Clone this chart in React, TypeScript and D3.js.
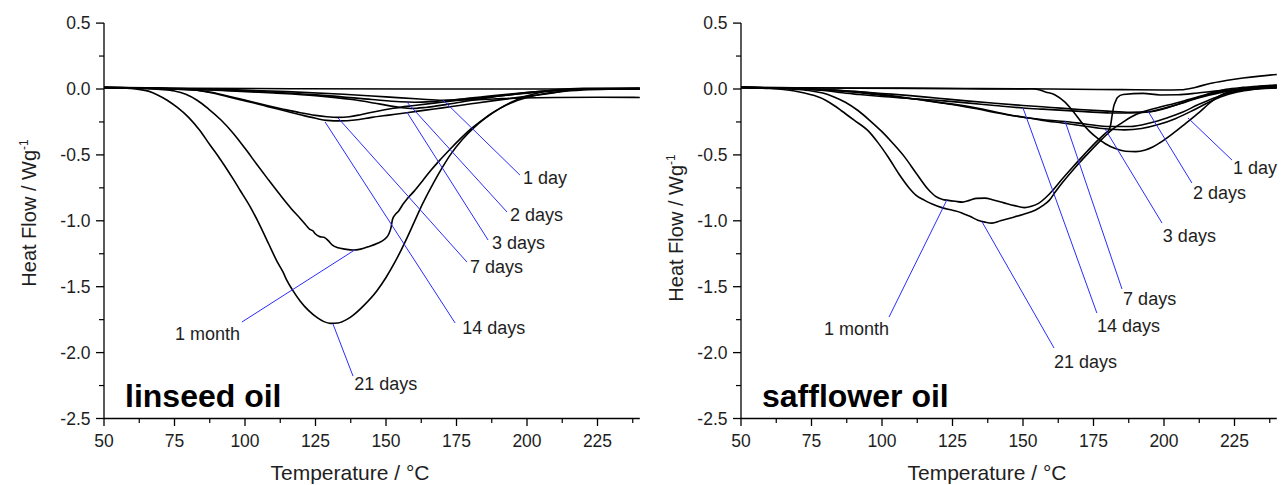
import { line, curveMonotoneX, scaleLinear } from "d3";

type Pt = [number, number];
type Leader = [number, number, number, number];

const W = 1282;
const H = 485;
const FONT = "'Liberation Sans', Arial, sans-serif";

// axes (same for both panels)
const X_DOMAIN: [number, number] = [50, 240];
const Y_DOMAIN: [number, number] = [-2.5, 0.5];
const X_TICKS = [50, 75, 100, 125, 150, 175, 200, 225];
const X_TICK_LABELS = ["50", "75", "100", "125", "150", "175", "200", "225"];
const X_MINOR = [62.5, 87.5, 112.5, 137.5, 162.5, 187.5, 212.5, 237.5];
const Y_TICKS = [0.5, 0, -0.5, -1, -1.5, -2, -2.5];
const Y_TICK_LABELS = ["0.5", "0.0", "-0.5", "-1.0", "-1.5", "-2.0", "-2.5"];
const Y_MINOR = [0.25, -0.25, -0.75, -1.25, -1.75, -2.25];

const AGES = ["1 day", "2 days", "3 days", "7 days", "14 days", "21 days", "1 month"];

// ---- linseed oil: temperature (°C), heat flow (W/g) ----
const linBase: Pt[] = [[50, 0.012], [80, 0.006], [120, 0.002], [160, 0], [200, 0], [240, 0]];
const lin1d: Pt[] = [[50, 0.01], [75, 0.004], [95, -0.005], [115, -0.02], [135, -0.04], [150, -0.06], [162, -0.076], [170, -0.085], [178, -0.084], [188, -0.076], [198, -0.068], [210, -0.064], [225, -0.063], [240, -0.064]];
const lin2d: Pt[] = [[50, 0.01], [70, 0.004], [90, -0.008], [110, -0.025], [130, -0.052], [145, -0.08], [155, -0.097], [160, -0.1], [166, -0.096], [175, -0.08], [185, -0.058], [195, -0.036], [205, -0.018], [215, -0.006], [225, 0], [240, 0.002]];
const lin3d: Pt[] = [[50, 0.012], [70, 0.004], [90, -0.01], [110, -0.03], [125, -0.05], [138, -0.08], [148, -0.115], [155, -0.14], [159, -0.148], [164, -0.14], [172, -0.115], [182, -0.08], [193, -0.045], [205, -0.018], [215, -0.005], [225, 0.002], [240, 0.004]];
const lin7d: Pt[] = [[50, 0.012], [70, 0.003], [82, -0.008], [88, -0.025], [95.7, -0.062], [102, -0.095], [107.8, -0.125], [114, -0.155], [119.6, -0.18], [125, -0.2], [129, -0.21], [133, -0.215], [137, -0.21], [141, -0.195], [146, -0.172], [152.6, -0.146], [160, -0.125], [169, -0.102], [178, -0.08], [187, -0.06], [196, -0.04], [204.6, -0.022], [212, -0.01], [220, -0.002], [240, 0.004]];
const lin14d: Pt[] = [[50, 0.012], [70, 0.003], [82, -0.008], [88, -0.028], [95.7, -0.068], [102, -0.1], [107.8, -0.132], [114, -0.165], [119.6, -0.195], [125, -0.222], [129, -0.238], [134, -0.242], [139, -0.235], [145, -0.215], [151, -0.198], [157.4, -0.18], [164, -0.16], [170, -0.143], [176, -0.125], [181, -0.11], [187, -0.092], [193, -0.075], [199, -0.058], [204.6, -0.044], [210, -0.026], [215, -0.01], [220, 0], [240, 0.004]];
const lin21d: Pt[] = [[50, 0.01], [58, 0.006], [63, -0.005], [66, -0.018], [69, -0.045], [72.4, -0.085], [76, -0.14], [80, -0.215], [84, -0.315], [87.6, -0.425], [90.5, -0.51], [93, -0.59], [96, -0.69], [98.3, -0.77], [102, -0.9], [105.4, -1.04], [108.5, -1.18], [111.4, -1.31], [113.5, -1.39], [114.8, -1.45], [117, -1.53], [119.6, -1.61], [122.5, -1.68], [125.6, -1.735], [128, -1.765], [130.2, -1.778], [133, -1.775], [136, -1.75], [138.4, -1.715], [142, -1.645], [146.8, -1.53], [150, -1.43], [153, -1.32], [157, -1.15], [160, -1.01], [163, -0.87], [166.9, -0.71], [170, -0.595], [172.8, -0.5], [177, -0.385], [181.1, -0.295], [185, -0.225], [190.6, -0.145], [195, -0.095], [200.1, -0.052], [205, -0.024], [210.7, -0.005], [220, 0.006], [240, 0.008]];
const lin1m: Pt[] = [[50, 0.01], [62, 0.005], [70, -0.003], [75, -0.015], [79, -0.04], [83, -0.085], [87, -0.15], [91.5, -0.235], [95.8, -0.335], [100, -0.45], [104.3, -0.575], [108, -0.68], [112.5, -0.805], [116.5, -0.91], [119.5, -0.98], [121.5, -1.03], [123, -1.065], [124, -1.075], [125, -1.1], [126.5, -1.12], [128, -1.125], [129.5, -1.15], [131, -1.185], [133, -1.205], [135.5, -1.215], [138.3, -1.222], [141, -1.215], [144, -1.195], [147, -1.17], [149.5, -1.14], [151, -1.1], [151.8, -1.05], [152.3, -0.99], [153.2, -0.955], [154.5, -0.925], [156, -0.875], [157.6, -0.83], [160, -0.775], [163.2, -0.69], [166, -0.615], [169.3, -0.535], [172.8, -0.455], [176.5, -0.375], [180, -0.305], [183.5, -0.245], [187, -0.19], [190.5, -0.145], [195, -0.1], [200, -0.065], [205, -0.04], [212, -0.02], [220, -0.008], [230, -0.002], [240, 0]];

// leader lines [T1, v1, T2, v2] and label anchors [T, v], in AGES order
const linLeaders: Leader[] = [[170.2, -0.083, 197.5, -0.653], [157.4, -0.099, 192.9, -0.933], [157.4, -0.175, 186.2, -1.146], [133.0, -0.22, 178.7, -1.313], [128.4, -0.25, 174.5, -1.775], [131.2, -1.783, 138.3, -2.178], [139.0, -1.22, 98.9, -1.768]];
const linLabelAt: Pt[] = [[198.6, -0.675], [194.0, -0.956], [187.6, -1.168], [179.8, -1.35], [177.0, -1.813], [138.7, -2.231], [98.2, -1.859]];

// ---- safflower oil ----
const safBase: Pt[] = [[50, 0.012], [90, 0.008], [130, 0.004], [160, 0], [185, -0.005], [200, -0.008], [206, -0.006], [211, 0.012], [216.3, 0.042], [222, 0.064], [228, 0.083], [234, 0.098], [240, 0.11]];
const saf1d: Pt[] = [[50, 0.012], [90, 0.006], [130, 0.002], [148, 0], [153, 0.002], [156, -0.008], [158, -0.022], [161.4, -0.045], [164.9, -0.1], [168.5, -0.19], [171, -0.26], [173.5, -0.32], [176.5, -0.375], [179.2, -0.415], [182.5, -0.45], [186.3, -0.472], [190, -0.475], [193.4, -0.462], [196, -0.44], [198.4, -0.41], [203, -0.34], [207.7, -0.26], [212.6, -0.175], [216, -0.11], [219.5, -0.055], [223.3, -0.02], [230, 0], [240, 0.01]];
const saf2d: Pt[] = [[50, 0.012], [70, 0.004], [80, -0.004], [90, -0.018], [100, -0.034], [110, -0.05], [120, -0.07], [130, -0.09], [140, -0.108], [150, -0.125], [160, -0.14], [170, -0.155], [180, -0.168], [188, -0.176], [195, -0.172], [200, -0.15], [205, -0.115], [210, -0.078], [215, -0.045], [220, -0.02], [227, -0.002], [234, 0.012], [240, 0.02]];
const saf3d: Pt[] = [[50, 0.012], [68, 0.004], [76, -0.004], [85, -0.015], [95, -0.035], [105, -0.06], [115, -0.085], [125, -0.115], [135, -0.15], [145, -0.195], [152, -0.22], [157, -0.238], [164, -0.258], [172, -0.282], [179.1, -0.302], [186, -0.31], [192, -0.3], [198, -0.27], [204, -0.225], [210, -0.165], [215, -0.11], [220, -0.06], [226, -0.022], [232, -0.002], [240, 0.012]];
const saf7d: Pt[] = [[50, 0.012], [68, 0.004], [76, -0.004], [85, -0.012], [92, -0.022], [97, -0.032], [105, -0.055], [113, -0.08], [121, -0.105], [127, -0.125], [133, -0.148], [140, -0.178], [147, -0.205], [152, -0.22], [158, -0.235], [164.9, -0.247], [172, -0.265], [181, -0.285], [188, -0.285], [195, -0.258], [201, -0.22], [206.7, -0.175], [212, -0.12], [218.8, -0.06], [224, -0.025], [230, -0.004], [240, 0.015]];
const saf14d: Pt[] = [[50, 0.012], [68, 0.004], [76, -0.006], [81, -0.015], [85, -0.027], [92, -0.042], [100, -0.057], [110, -0.072], [121, -0.088], [130, -0.105], [140, -0.125], [150, -0.144], [157, -0.153], [163, -0.16], [172, -0.172], [181, -0.182], [188, -0.182], [195, -0.172], [201, -0.14], [206.7, -0.106], [211, -0.075], [216.3, -0.046], [222, -0.018], [228, 0.005], [234, 0.018], [240, 0.028]];
const saf21d: Pt[] = [[50, 0.012], [60, 0.004], [65, -0.004], [69, -0.015], [72.5, -0.03], [76, -0.05], [80, -0.085], [83, -0.125], [85.6, -0.165], [90, -0.235], [95.2, -0.32], [98.5, -0.405], [102.3, -0.52], [106, -0.645], [109.4, -0.745], [112, -0.805], [115.1, -0.845], [118, -0.875], [121.2, -0.9], [125, -0.92], [128.3, -0.94], [131.5, -0.97], [134, -0.995], [136.5, -1.01], [139, -1.018], [142, -1.0], [145, -0.982], [150, -0.952], [154.3, -0.92], [157, -0.885], [159.3, -0.845], [161.5, -0.78], [164, -0.71], [168.5, -0.595], [173, -0.49], [178, -0.38], [181.5, -0.31], [185.2, -0.255], [188.5, -0.21], [192.3, -0.175], [198, -0.14], [204, -0.108], [209, -0.078], [213.7, -0.05], [218, -0.022], [222, -0.003], [228, 0.012], [234, 0.022], [240, 0.03]];
const saf1m: Pt[] = [[50, 0.012], [62, 0.005], [70, -0.004], [75, -0.015], [79, -0.03], [83, -0.06], [87, -0.1], [91.6, -0.165], [96, -0.245], [99.8, -0.32], [104, -0.415], [108, -0.515], [112, -0.635], [116.5, -0.765], [119, -0.815], [121.5, -0.838], [123.5, -0.845], [126, -0.852], [128.5, -0.858], [131, -0.845], [133.5, -0.83], [136.5, -0.828], [139.5, -0.842], [143, -0.862], [147, -0.885], [150.5, -0.9], [153, -0.89], [155.5, -0.868], [158, -0.825], [160.5, -0.77], [163, -0.705], [167.5, -0.595], [172, -0.49], [176.5, -0.39], [179.5, -0.33], [180.5, -0.31], [181.1, -0.27], [181.6, -0.2], [182.2, -0.13], [182.8, -0.095], [183.5, -0.065], [185.5, -0.042], [192.6, -0.033], [198.6, -0.045], [205, -0.044], [212, -0.03], [220, -0.012], [230, 0], [240, 0.008]];

const safLeaders: Leader[] = [[208.5, -0.22, 224.1, -0.539], [194.3, -0.167, 209.9, -0.713], [179.1, -0.303, 199.3, -1.017], [164.9, -0.243, 185.1, -1.517], [150.0, -0.144, 176.2, -1.70], [135.5, -1.009, 161.0, -1.965], [123.0, -0.842, 102.5, -1.73]];
const safLabelAt: Pt[] = [[224.5, -0.592], [210.3, -0.789], [199.6, -1.108], [185.5, -1.593], [176.2, -1.791], [161.0, -2.071], [102.5, -1.821]];

type PanelProps = {
  left: number;
  name: string;
  curves: Pt[][];
  leaders: Leader[];
  labelAt: Pt[];
  yTitleX: number;
  yTitleY: number;
};

function Panel({ left, name, curves, leaders, labelAt, yTitleX, yTitleY }: PanelProps) {
  const x = scaleLinear().domain(X_DOMAIN).range([left, left + 535.8]);
  const y = scaleLinear().domain(Y_DOMAIN).range([418.5, 23.1]);
  const path = line<Pt>()
    .x((d) => x(d[0]))
    .y((d) => y(d[1]))
    .curve(curveMonotoneX);

  const x0 = x(X_DOMAIN[0]);
  const y0 = y(Y_DOMAIN[0]);

  return (
    <g fontFamily={FONT} fill="#1e1e1e">
      {/* curves */}
      {curves.map((c, i) => (
        <path key={i} d={path(c) ?? undefined} fill="none" stroke="#000" strokeWidth={1.6} strokeLinejoin="round" />
      ))}

      {/* leader lines + labels */}
      {leaders.map((l, i) => (
        <line key={i} x1={x(l[0])} y1={y(l[1])} x2={x(l[2])} y2={y(l[3])} stroke="#2b2bff" strokeWidth={1} />
      ))}
      {labelAt.map((p, i) => (
        <text
          key={AGES[i]}
          x={x(p[0])}
          y={y(p[1])}
          dy="0.36em"
          fontSize={18}
          textAnchor={AGES[i] === "1 month" ? "end" : "start"}
        >
          {AGES[i]}
        </text>
      ))}

      {/* y axis */}
      <line x1={x0} x2={x0} y1={y(Y_DOMAIN[1])} y2={y0} stroke="#000" strokeWidth={1.3} />
      {Y_TICKS.map((t, i) => (
        <g key={t}>
          <line x1={x0 - 8} x2={x0} y1={y(t)} y2={y(t)} stroke="#000" strokeWidth={1.3} />
          <text x={x0 - 13.5} y={y(t)} dy="0.36em" fontSize={17.5} textAnchor="end">
            {Y_TICK_LABELS[i]}
          </text>
        </g>
      ))}
      {Y_MINOR.map((t) => (
        <line key={t} x1={x0 - 5} x2={x0} y1={y(t)} y2={y(t)} stroke="#000" strokeWidth={1.2} />
      ))}

      {/* x axis */}
      <line x1={x0} x2={x(X_DOMAIN[1])} y1={y0} y2={y0} stroke="#000" strokeWidth={1.3} />
      {X_TICKS.map((t, i) => (
        <g key={t}>
          <line x1={x(t)} x2={x(t)} y1={y0} y2={y0 + 7.5} stroke="#000" strokeWidth={1.3} />
          <text x={x(t)} y={446.5} fontSize={17.5} textAnchor="middle">
            {X_TICK_LABELS[i]}
          </text>
        </g>
      ))}
      {X_MINOR.map((t) => (
        <line key={t} x1={x(t)} x2={x(t)} y1={y0} y2={y0 + 4.5} stroke="#000" strokeWidth={1.2} />
      ))}

      {/* axis titles */}
      <text x={left + 246} y={480} fontSize={21} textAnchor="middle">
        Temperature / °C
      </text>
      <text transform={`translate(${yTitleX},${yTitleY}) rotate(-90)`} fontSize={20} textAnchor="middle">
        Heat Flow / Wg
        <tspan dy={-8} fontSize={12}>-1</tspan>
      </text>

      {/* sample name */}
      <text x={left + 21} y={407} fontSize={32} fontWeight="bold" fill="#000">
        {name}
      </text>
    </g>
  );
}

export default function App() {
  return (
    <div style={{ position: "absolute", left: 0, top: 0 }}>
      <svg width={W} height={H} viewBox={`0 0 ${W} ${H}`} style={{ display: "block", background: "#fff" }}>
        <Panel
          left={104}
          name="linseed oil"
          curves={[linBase, lin1d, lin2d, lin3d, lin7d, lin14d, lin21d, lin1m]}
          leaders={linLeaders}
          labelAt={linLabelAt}
          yTitleX={36}
          yTitleY={213}
        />
        <Panel
          left={741}
          name="safflower oil"
          curves={[safBase, saf1d, saf2d, saf3d, saf7d, saf14d, saf21d, saf1m]}
          leaders={safLeaders}
          labelAt={safLabelAt}
          yTitleX={683}
          yTitleY={228}
        />
      </svg>
    </div>
  );
}
